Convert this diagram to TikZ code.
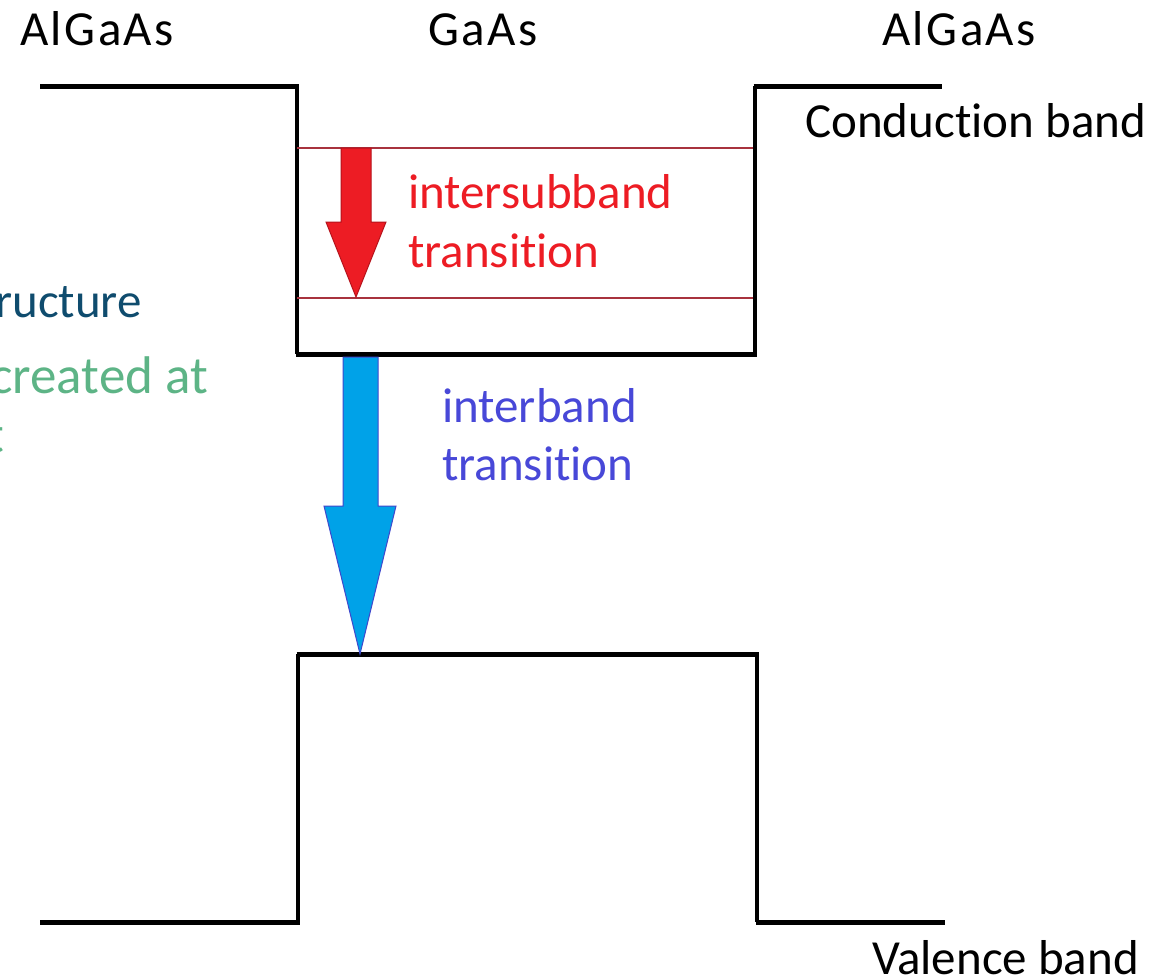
\documentclass[tikz,border=0pt]{standalone}
\usepackage{fontspec}
\setmainfont{Carlito}[Ligatures=NoCommon]
\newfontfamily\widecarlito{Carlito}[Ligatures=NoCommon,LetterSpace=5]
\definecolor{arrRed}{HTML}{ED1C24}
\definecolor{arrRedEdge}{HTML}{B5121B}
\definecolor{subRed}{HTML}{A8323E}
\definecolor{arrBlue}{HTML}{00A2E8}
\definecolor{arrBlueEdge}{HTML}{3F48CC}
\definecolor{txtBlue}{HTML}{4848D8}
\definecolor{txtDark}{HTML}{0F4C6E}
\definecolor{txtGreen}{HTML}{5DB486}
\begin{document}
\begin{tikzpicture}[x=1pt,y=-1pt,
  hband/.style={line width=5pt,black},
  vwall/.style={line width=3.5pt,black},
  subband/.style={line width=1.5pt,subRed},
  lbl/.style={inner sep=0pt,font=\fontsize{49}{59}\selectfont},
  caplbl/.style={inner sep=0pt,font=\widecarlito\fontsize{49}{59}\selectfont},
  sidelbl/.style={inner sep=0pt,font=\fontsize{53}{63}\selectfont},
  redarrow/.style={fill=arrRed,draw=arrRedEdge,line width=1pt,line join=miter},
  bluearrow/.style={fill=arrBlue,draw=arrBlueEdge,line width=1pt,line join=miter}]
\useasboundingbox[fill=white] (0,0) rectangle (1165,980);
\begin{scope}
\clip (0,0) rectangle (1165,980);
% coordinates of the conduction band profile
\coordinate (cbL) at (40,86);
\coordinate (cbWL) at (297,86);
\coordinate (wBL) at (297,354);
\coordinate (wBR) at (755,354);
\coordinate (cbWR) at (755,86);
\coordinate (cbR) at (942,86);
% valence band profile
\coordinate (vbL) at (40,922);
\coordinate (vbWL) at (298,922);
\coordinate (vTL) at (298,654);
\coordinate (vTR) at (757,654);
\coordinate (vbWR) at (757,922);
\coordinate (vbR) at (945,922);
% subbands
\coordinate (s1L) at (297,148);
\coordinate (s1R) at (753,148);
\coordinate (s2L) at (297,298);
\coordinate (s2R) at (753,298);

% conduction band
\draw[hband] (cbL) -- ([xshift=1.5pt]cbWL);
\draw[vwall] (cbWL) -- (wBL);
\draw[hband] ([xshift=-1.5pt]wBL) -- ([xshift=1.5pt]wBR);
\draw[vwall] (wBR) -- (cbWR);
\draw[hband] ([xshift=-1.5pt]cbWR) -- (cbR);
% valence band
\draw[hband] (vbL) -- ([xshift=1.5pt]vbWL);
\draw[vwall] (vbWL) -- (vTL);
\draw[hband] ([xshift=-1.5pt]vTL) -- ([xshift=1.5pt]vTR);
\draw[vwall] (vTR) -- (vbWR);
\draw[hband] ([xshift=-1.5pt]vbWR) -- (vbR);
% subband levels
\draw[subband] (s1L) -- (s1R);
\draw[subband] (s2L) -- (s2R);

% intersubband arrow
\draw[redarrow] (341,148) -- (371,148) -- (371,222) -- (386,222) -- (356,297)
  -- (326,222) -- (341,222) -- cycle;
% interband arrow
\draw[bluearrow] (343,357) -- (378,357) -- (378,506) -- (396,506) -- (360,654)
  -- (324,506) -- (343,506) -- cycle;

% labels
\node[caplbl,anchor=base west] (lAl) at (20,45) {AlGaAs};
\node[caplbl,anchor=base west] (lGa) at (428,45) {GaAs};
\node[caplbl,anchor=base west] (rAl) at (882,45) {AlGaAs};
\node[lbl,anchor=base west] (cb) at (805,137) {Conduction band};
\node[lbl,anchor=base west] (vb) at (872,974) {Valence band};
\node[lbl,anchor=base west,text=arrRed] (is1) at (408,208) {intersubband};
\node[lbl,anchor=base west,text=arrRed] (is2) at (408,267) {transition};
\node[lbl,anchor=base west,text=txtBlue] (ib1) at (442,422) {interband};
\node[lbl,anchor=base west,text=txtBlue] (ib2) at (442,480) {transition};
% cut-off text at left edge
\node[lbl,anchor=base east,text=txtDark] (f1) at (142,317) {ructure};
\node[sidelbl,anchor=base east,text=txtGreen] (f2) at (208,393) {created at};
\node[sidelbl,anchor=base east,text=txtGreen] (f3) at (4,452) {t};
\end{scope}
\end{tikzpicture}
\end{document}
